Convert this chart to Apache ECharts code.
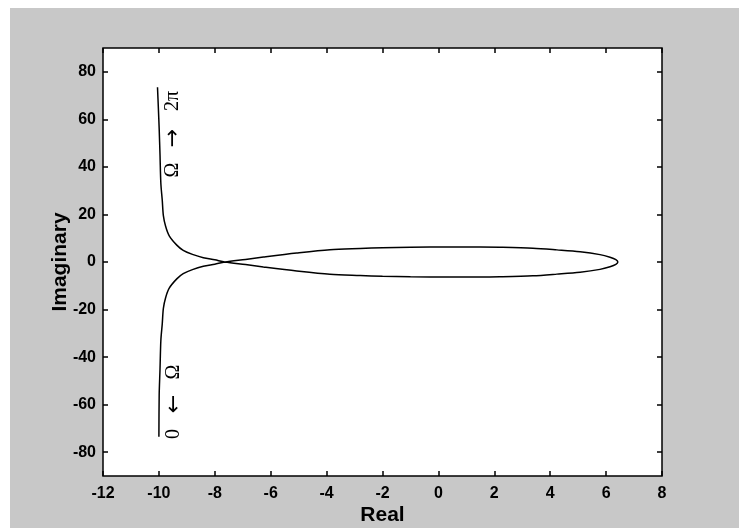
<!DOCTYPE html>
<html>
<head>
<meta charset="utf-8">
<script src="https://cdn.jsdelivr.net/npm/echarts@6/dist/echarts.min.js"></script>
<style>html,body{margin:0;padding:0;background:#fff;}#chart{width:739px;height:528px;}</style>
</head>
<body>
<div id="chart"></div>
<script>
// Nyquist-style curve (path order: Ω from 0 to 2π)
const realPart = [
  -10.00, -9.99, -9.96, -9.93, -9.88, -9.84, -9.76, -9.63, -9.36, -9.13, -8.80, -8.41, -8.00, -7.64,
  -6.90, -6.26, -5.07, -3.88, -2.80, -2.00, -1.00, 0.40, 1.50, 2.20, 3.38, 4.24, 5.07, 5.78, 6.14, 6.35, 6.42,
  6.35, 6.14, 5.78, 5.07, 4.24, 3.38, 2.20, 1.50, 0.40, -1.00, -2.00, -2.80, -3.88, -5.07, -6.26, -6.90, -7.64,
  -8.00, -8.41, -8.80, -9.13, -9.36, -9.63, -9.76, -9.84, -9.88, -9.93, -9.96, -9.99, -10.02, -10.05
];
const imagPart = [
  -73.5, -56, -45, -33, -26, -19.5, -15, -11, -7.1, -4.9, -3.2, -1.8, -0.9, 0,
  1.1, 2.1, 3.8, 5.2, 5.7, 6.0, 6.2, 6.3, 6.3, 6.2, 5.8, 5.1, 4.3, 3.1, 2.0, 1.0, 0,
  -1.0, -2.0, -3.1, -4.3, -5.1, -5.8, -6.2, -6.3, -6.3, -6.2, -6.0, -5.7, -5.2, -3.8, -2.1, -1.1, 0,
  0.9, 1.8, 3.2, 4.9, 7.1, 11, 15, 19.5, 26, 33, 45, 56, 65, 73.5
];
const xTicks = [-12, -10, -8, -6, -4, -2, 0, 2, 4, 6, 8];
const yTicks = [-80, -60, -40, -20, 0, 20, 40, 60, 80];
const xName = 'Real';
const yName = 'Imaginary';
const topNote = ['Ω', '→', '2π'];     // read bottom to top
const bottomNote = ['0', '←', 'Ω'];  // read bottom to top

const curve = realPart.map((x, i) => [x, imagPart[i]]);

const chart = echarts.init(document.getElementById('chart'), null, {renderer: 'canvas'});
const tickLabelStyle = {color: '#000', fontFamily: 'Liberation Sans', fontSize: 16, fontWeight: 'bold'};
const nameStyle = {color: '#000', fontFamily: 'Liberation Sans', fontSize: 21, fontWeight: 'bold'};
const tickStyle = {show: true, inside: true, length: 5, lineStyle: {color: '#000', width: 1.5}};

function note(text, x, y, font) {
  return {type: 'text', x: x, y: y, rotation: Math.PI / 2,
    style: {text: text, font: font, fill: '#000', align: 'center', verticalAlign: 'middle',
            textAlign: 'center', textVerticalAlign: 'middle'}};
}
const serif = '20px "Liberation Serif"';
const arrowFont = '22px "DejaVu Sans"';

chart.setOption({
  backgroundColor: '#c8c8c8',
  animation: false,
  grid: {left: 103, right: 77, top: 48, bottom: 52, outerBoundsMode: 'none', containLabel: false,
         show: true, backgroundColor: '#fff', borderColor: '#000', borderWidth: 1.5},
  xAxis: [
    {type: 'value', min: xTicks[0], max: xTicks[xTicks.length - 1], interval: 2, position: 'bottom',
     axisLine: {show: false, onZero: false}, splitLine: {show: false}, axisTick: tickStyle,
     axisLabel: Object.assign({margin: 10}, tickLabelStyle),
     name: xName, nameLocation: 'middle', nameGap: 29, nameMoveOverlap: false, nameTextStyle: nameStyle},
    {type: 'value', min: xTicks[0], max: xTicks[xTicks.length - 1], interval: 2, position: 'top',
     axisLine: {show: false, onZero: false}, splitLine: {show: false}, axisTick: tickStyle, axisLabel: {show: false}}
  ],
  yAxis: [
    {type: 'value', min: -90, max: 90, position: 'left',
     axisLine: {show: false, onZero: false}, splitLine: {show: false},
     axisTick: Object.assign({customValues: yTicks}, tickStyle),
     axisLabel: Object.assign({margin: 7, customValues: yTicks}, tickLabelStyle),
     name: yName, nameLocation: 'middle', nameGap: 32, nameRotate: 90, nameMoveOverlap: false, nameTextStyle: nameStyle},
    {type: 'value', min: -90, max: 90, position: 'right',
     axisLine: {show: false, onZero: false}, splitLine: {show: false},
     axisTick: Object.assign({customValues: yTicks}, tickStyle), axisLabel: {show: false}}
  ],
  graphic: [
    {type: 'rect', shape: {x: 0, y: 0, width: 739, height: 8}, style: {fill: '#fff'}, silent: true},
    {type: 'rect', shape: {x: 0, y: 0, width: 10, height: 528}, style: {fill: '#fff'}, silent: true},
    note(topNote[0], 173, 170, serif),
    note(topNote[1], 173, 138, arrowFont),
    note(topNote[2], 173, 101, serif),
    note(bottomNote[0], 174, 434, serif),
    note(bottomNote[1], 174, 404, arrowFont),
    note(bottomNote[2], 174, 372, serif)
  ],
  series: [{
    type: 'line', xAxisIndex: 0, yAxisIndex: 0, data: curve, showSymbol: false, smooth: 0.3,
    lineStyle: {color: '#000', width: 1.5}, clip: true
  }]
});
</script>
</body>
</html>
